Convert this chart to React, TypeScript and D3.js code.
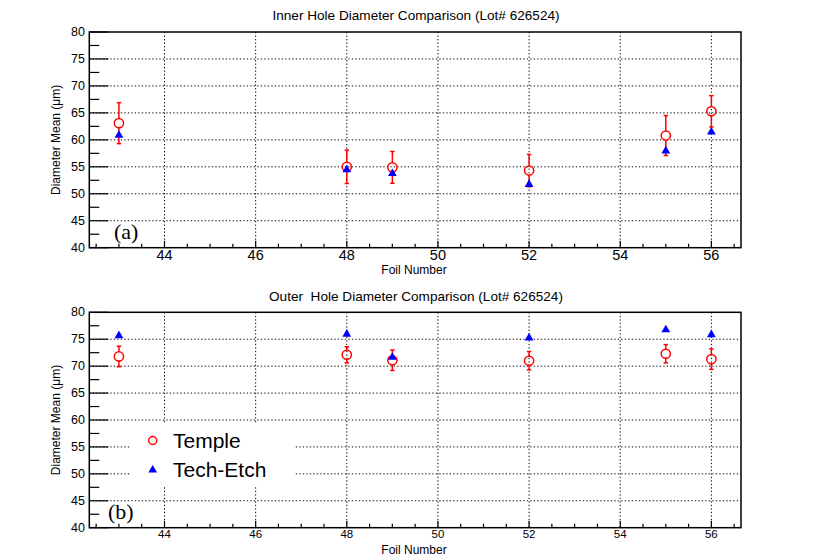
import React, { useEffect, useRef } from "react";
import * as d3 from "d3";

const foils = [43, 48, 49, 52, 55, 56];

const innerTemple = [63.1, 55.0, 54.9, 54.3, 60.8, 65.3];
const innerTempleErr = [3.8, 3.1, 2.95, 3.0, 3.7, 2.9];
const innerTechEtch = [61.0, 54.6, 53.9, 51.9, 58.1, 61.6];

const outerTemple = [71.8, 72.1, 71.1, 71.0, 72.3, 71.3];
const outerTempleErr = [1.9, 1.5, 1.9, 1.7, 1.7, 1.9];
const outerTechEtch = [75.8, 76.1, 71.8, 75.4, 76.9, 76.0];

const xMajorTicks = [44, 46, 48, 50, 52, 54, 56];
const yMajorTicks = [40, 45, 50, 55, 60, 65, 70, 75, 80];

const legendLabels = ["Temple", "Tech-Etch"];

const FONT = "'Liberation Sans', Arial, Helvetica, sans-serif";
const RED = "#ff0000";
const BLUE = "#0000ff";

function drawPanel(svg, opts) {
  const { top, bottom, title, titleY, tag, tagX, temple, templeErr, tech, tickFont, tickY, showLegend } = opts;
  const left = 89.3;
  const right = 741;

  const x = d3.scaleLinear().domain([42.35, 56.65]).range([left, right]);
  const y = d3.scaleLinear().domain([40, 80]).range([bottom, top]);

  const g = svg.append("g");

  // grid
  const grid = g.append("g").attr("stroke", "#000").attr("stroke-width", 1).attr("stroke-dasharray", "1.3,2.2");
  xMajorTicks.forEach((t) => {
    grid.append("line").attr("x1", x(t)).attr("x2", x(t)).attr("y1", top).attr("y2", bottom);
  });
  yMajorTicks.slice(1, -1).forEach((t) => {
    grid.append("line").attr("x1", left).attr("x2", right).attr("y1", y(t)).attr("y2", y(t));
  });

  // ticks
  const ticks = g.append("g").attr("stroke", "#000").attr("stroke-width", 1.2);
  d3.range(40, 80.01, 2.5).forEach((t) => {
    const major = t % 5 === 0;
    ticks.append("line").attr("x1", left).attr("x2", left + (major ? 19 : 10)).attr("y1", y(t)).attr("y2", y(t));
  });
  d3.range(42.5, 56.6, 0.5).forEach((t) => {
    const major = Math.abs(t % 2) < 1e-6;
    ticks.append("line").attr("x1", x(t)).attr("x2", x(t)).attr("y1", bottom).attr("y2", bottom - (major ? 7 : 4));
  });

  // frame
  g.append("rect")
    .attr("x", left).attr("y", top)
    .attr("width", right - left).attr("height", bottom - top)
    .attr("fill", "none").attr("stroke", "#000").attr("stroke-width", 1.5);

  // tick labels
  g.append("g").selectAll("text").data(yMajorTicks).join("text")
    .attr("x", 85).attr("y", (d) => y(d))
    .attr("text-anchor", "end").attr("dominant-baseline", "central")
    .attr("font-family", FONT).attr("font-size", 12.5)
    .text((d) => d);
  g.append("g").selectAll("text").data(xMajorTicks).join("text")
    .attr("x", (d) => x(d)).attr("y", tickY)
    .attr("text-anchor", "middle")
    .attr("font-family", FONT).attr("font-size", tickFont)
    .text((d) => d);

  // axis titles
  g.append("text")
    .attr("x", 414).attr("y", bottom + 26.5)
    .attr("text-anchor", "middle")
    .attr("font-family", FONT).attr("font-size", 12)
    .text("Foil Number");
  g.append("text")
    .attr("transform", `translate(56,${(top + bottom) / 2}) rotate(-90)`)
    .attr("text-anchor", "middle").attr("dominant-baseline", "central")
    .attr("font-family", FONT).attr("font-size", 12)
    .text("Diameter Mean (\u03bcm)");

  // title
  g.append("text")
    .attr("x", 416).attr("y", titleY)
    .attr("text-anchor", "middle")
    .attr("font-family", FONT).attr("font-size", 13.6)
    .style("white-space", "pre")
    .text(title);

  // panel tag
  g.append("text")
    .attr("x", tagX).attr("y", bottom - 9)
    .attr("font-family", "'Liberation Serif', 'Times New Roman', serif").attr("font-size", 22)
    .text(tag);

  const r = 4.6;
  const cap = 2.2;

  // Temple: open circles with error bars
  const tg = g.append("g").attr("stroke", RED).attr("stroke-width", 1.5).attr("fill", "none");
  foils.forEach((f, i) => {
    const cx = x(f);
    const cy = y(temple[i]);
    const yt = y(temple[i] + templeErr[i]);
    const yb = y(temple[i] - templeErr[i]);
    tg.append("line").attr("x1", cx).attr("x2", cx).attr("y1", yt).attr("y2", cy - r);
    tg.append("line").attr("x1", cx).attr("x2", cx).attr("y1", cy + r).attr("y2", yb);
    tg.append("line").attr("x1", cx - cap).attr("x2", cx + cap).attr("y1", yt).attr("y2", yt);
    tg.append("line").attr("x1", cx - cap).attr("x2", cx + cap).attr("y1", yb).attr("y2", yb);
    tg.append("circle").attr("cx", cx).attr("cy", cy).attr("r", r);
  });

  // Tech-Etch: filled triangles
  const tri = d3.symbol().type(d3.symbolTriangle).size(34);
  g.append("g").selectAll("path").data(foils).join("path")
    .attr("d", tri)
    .attr("transform", (d, i) => `translate(${x(d)},${y(tech[i]) + 0.8})`)
    .attr("fill", BLUE);

  if (showLegend) {
    const lg = g.append("g");
    lg.append("rect").attr("x", 130).attr("y", 424).attr("width", 165).attr("height", 62).attr("fill", "#fff");
    lg.append("circle").attr("cx", 152.7).attr("cy", 440.5).attr("r", 4).attr("fill", "none").attr("stroke", RED).attr("stroke-width", 1.5);
    lg.append("path").attr("d", tri).attr("transform", "translate(152.7,470)").attr("fill", BLUE);
    lg.selectAll("text").data(legendLabels).join("text")
      .attr("x", 173).attr("y", (d, i) => 440.5 + i * 28.5)
      .attr("dominant-baseline", "central")
      .attr("font-family", FONT).attr("font-size", 21)
      .text((d) => d);
  }
}

export default function App() {
  const svgRef = useRef(null);

  useEffect(() => {
    if (!svgRef.current) return;
    const svg = d3.select(svgRef.current);
    svg.selectAll("*").remove();

    svg.append("rect").attr("width", 830).attr("height", 560).attr("fill", "#fff");

    drawPanel(svg, {
      top: 32,
      bottom: 247.7,
      title: "Inner Hole Diameter Comparison (Lot# 626524)",
      titleY: 20.3,
      tag: "(a)",
      tagX: 114,
      temple: innerTemple,
      templeErr: innerTempleErr,
      tech: innerTechEtch,
      tickFont: 14.5,
      tickY: 260.3,
      showLegend: false,
    });

    drawPanel(svg, {
      top: 312.3,
      bottom: 527.7,
      title: "Outer  Hole Diameter Comparison (Lot# 626524)",
      titleY: 300.6,
      tag: "(b)",
      tagX: 108,
      temple: outerTemple,
      templeErr: outerTempleErr,
      tech: outerTechEtch,
      tickFont: 11.5,
      tickY: 537.5,
      showLegend: true,
    });
  }, []);

  return (
    <svg
      ref={svgRef}
      width={830}
      height={560}
      style={{ position: "absolute", left: 0, top: 0 }}
    />
  );
}
